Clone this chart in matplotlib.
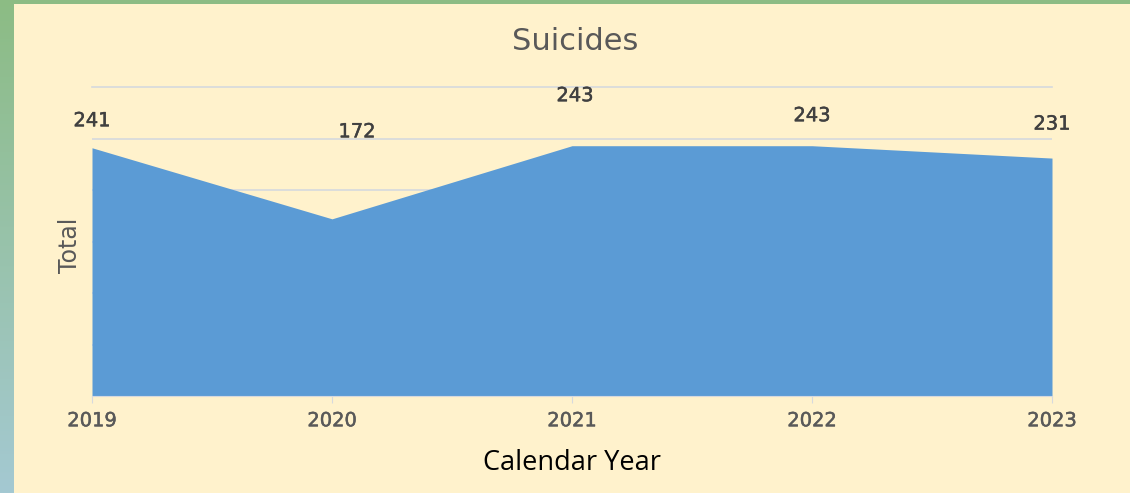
import numpy as np
import matplotlib.pyplot as plt
import matplotlib.patheffects as pe

# data
years = ["2019", "2020", "2021", "2022", "2023"]
totals = [241, 172, 243, 243, 231]

# Excel put the data labels at odd heights; offsets in pixels above each point
label_dx = [0, 25, 3, 0, 0]
label_dy = [27, 87, 50, 30, 34]

W, H = 1130, 493
fig = plt.figure(figsize=(W / 100, H / 100), dpi=100)
fig.patch.set_facecolor("#FFF2CC")

# green / blue frame on the left and top
strip = fig.add_axes([0, 0, 14 / W, 1])
grad = np.linspace(0, 1, 256).reshape(-1, 1)
c_top = np.array([0x8C, 0xBC, 0x84]) / 255
c_bot = np.array([0xA4, 0xC9, 0xD2]) / 255
img = (c_top * (1 - grad) + c_bot * grad).reshape(256, 1, 3)
strip.imshow(img, aspect="auto", extent=[0, 1, 0, 1])
strip.axis("off")
top = fig.add_axes([0, 1 - 4 / H, 1, 4 / H])
top.set_facecolor("#8CBC84")
top.set_xticks([])
top.set_yticks([])
for s in top.spines.values():
    s.set_visible(False)

ax = fig.add_axes([92 / W, (H - 396) / H, (1052 - 92) / W, (396 - 87) / H])
ax.set_facecolor("none")
x = np.arange(len(years))
ax.fill_between(x, 0, totals, color="#5B9BD5", lw=0, zorder=2)
ax.set_xlim(0, len(years) - 1)
ax.set_ylim(0, 300)
ax.set_yticks(np.arange(50, 301, 50))
ax.yaxis.grid(True, color="#D6D9DE", lw=1.2, zorder=0)
ax.get_ygridlines()[-1].set_clip_on(False)
ax.set_axisbelow(True)
ax.tick_params(axis="y", length=0, labelleft=False)
ax.set_xticks(x)
labels = ax.set_xticklabels(years, fontsize=14, color="#595959",
                            fontfamily="DejaVu Sans")
for t in labels:
    t.set_path_effects([pe.withStroke(linewidth=0.35, foreground="#595959")])
ax.tick_params(axis="x", length=5, color="#D6D9DE", pad=6)
for s in ["top", "right", "left"]:
    ax.spines[s].set_visible(False)
ax.spines["bottom"].set_color("#D6D9DE")

for i, v in enumerate(totals):
    ax.annotate(str(v), (x[i], v), xytext=(label_dx[i], label_dy[i]),
                textcoords="offset pixels", ha="center", va="center",
                fontsize=14, color="#404040", fontfamily="DejaVu Sans",
                path_effects=[pe.withStroke(linewidth=0.35, foreground="#404040")])

fig.text(575 / W, 1 - 42 / H, "Suicides", ha="center", va="center",
         fontsize=22, color="#595959", fontfamily="DejaVu Sans")
fig.text(70 / W, 1 - 245 / H, "Total", ha="center", va="center",
         rotation=90, fontsize=17, color="#595959",
         fontfamily="Liberation Sans Narrow")
fig.text(572 / W, 1 - 463 / H, "Calendar Year", ha="center", va="center",
         fontsize=19.5, color="black", fontfamily="Open Sans")

fig.savefig("out.png", dpi=100, facecolor=fig.get_facecolor())
